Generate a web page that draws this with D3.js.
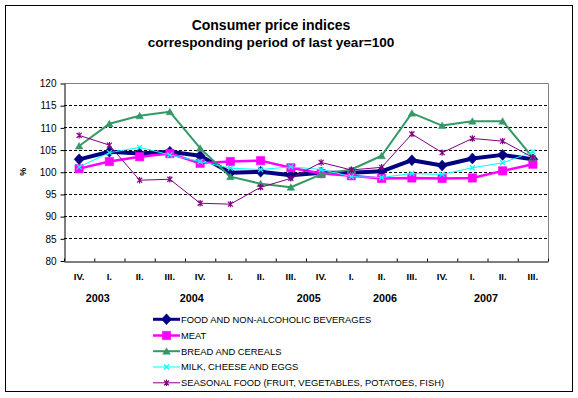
<!DOCTYPE html>
<html>
<head>
<meta charset="utf-8">
<script src="https://cdn.jsdelivr.net/npm/d3@7"></script>
<style>
  body { margin: 0; background: #fff; }
  svg { display: block; font-family: Arial, "Liberation Sans", sans-serif; }
</style>
</head>
<body>
<div id="chart"></div>
<script>
// data
var quarters = ["IV.", "I.", "II.", "III.", "IV.", "I.", "II.", "III.", "IV.", "I.", "II.", "III.", "IV.", "I.", "II.", "III."];
var years = ["2003", "2004", "2005", "2006", "2007"];
var yearAt = [0.62, 3.72, 7.59, 10.11, 13.45];   // where excel put the year labels (in category units)
var yTicks = [80, 85, 90, 95, 100, 105, 110, 115, 120];

var food     = [102.8, 104.5, 104.1, 104.5, 103.6, 99.8, 100.0, 99.2, 99.8, 99.8, 100.1, 102.6, 101.4, 103.0, 103.8, 102.8];
var meat     = [100.7, 102.3, 103.4, 104.1, 101.9, 102.3, 102.5, 100.9, 99.6, 99.1, 98.5, 98.6, 98.5, 98.6, 100.2, 101.7];
var bread    = [105.8, 110.8, 112.6, 113.5, 105.3, 98.9, 97.3, 96.5, 99.4, 100.5, 103.6, 113.2, 110.4, 111.4, 111.4, 103.2];
var milk     = [101.1, 104.3, 105.5, 103.8, 102.3, 100.8, 100.5, 101.1, 100.5, 98.9, 98.7, 99.6, 99.4, 100.9, 102.0, 104.5];
var seasonal = [108.2, 106.0, 98.1, 98.3, 92.9, 92.7, 96.5, 98.5, 102.1, 100.4, 101.0, 108.5, 104.3, 107.5, 106.9, 103.2];

var series = [
  {name: "FOOD AND NON-ALCOHOLIC BEVERAGES", values: food, color: "#000080", width: 4, marker: "diamond"},
  {name: "MEAT", values: meat, color: "#FF00FF", width: 2.5, marker: "square"},
  {name: "BREAD AND CEREALS", values: bread, color: "#339966", width: 2, marker: "triangle"},
  {name: "MILK, CHEESE AND EGGS", values: milk, color: "#00FFFF", width: 1, marker: "cross"},
  {name: "SEASONAL FOOD (FRUIT, VEGETABLES, POTATOES, FISH)", values: seasonal, color: "#800080", width: 1, marker: "star"}
];

var W = 578, H = 398;
var plot = {left: 64, right: 548, top: 83, bottom: 260.5};

var svg = d3.select("#chart").append("svg")
    .attr("width", W)
    .attr("height", H);

// outer frame
svg.append("rect")
    .attr("x", 5.5).attr("y", 5.5)
    .attr("width", 567).attr("height", 386)
    .attr("fill", "#fff")
    .attr("stroke", "#000");

// titles
svg.append("text")
    .attr("x", 271).attr("y", 30)
    .attr("text-anchor", "middle")
    .style("font-size", "14px").style("font-weight", "bold")
    .text("Consumer price indices");
svg.append("text")
    .attr("x", 271).attr("y", 47)
    .attr("text-anchor", "middle")
    .style("font-size", "13.6px").style("font-weight", "bold")
    .text("corresponding period of last year=100");

var x = d3.scaleLinear().domain([0, quarters.length]).range([plot.left, plot.right]);
var y = d3.scaleLinear().domain([80, 120]).range([plot.bottom, plot.top]);
function cx(i) { return x(i + 0.5); }

// gridlines
svg.append("g")
    .selectAll("line")
    .data(yTicks.filter(function(d) { return d > 80 && d < 120; }))
    .enter()
    .append("line")
    .attr("x1", plot.left).attr("x2", plot.right)
    .attr("y1", function(d) { return Math.round(y(d)) + 0.5; })
    .attr("y2", function(d) { return Math.round(y(d)) + 0.5; })
    .attr("stroke", "#000")
    .attr("stroke-dasharray", "3,2");

// grey plot frame (top and right)
svg.append("path")
    .attr("d", "M" + plot.left + "," + (plot.top + 0.5) + "H" + (plot.right + 0.5) + "V" + plot.bottom)
    .attr("fill", "none")
    .attr("stroke", "#808080");

// y axis
var yAxis = svg.append("g")
    .attr("transform", "translate(" + (plot.left + 0.5) + ",0.5)")
    .call(d3.axisLeft(y).tickValues(yTicks).tickSize(4).tickPadding(4).tickSizeOuter(0));
yAxis.select(".domain").attr("stroke", "#000");
yAxis.selectAll("text").style("font-size", "10px").attr("fill", "#000");

svg.append("text")
    .attr("transform", "translate(26," + y(100) + ") rotate(-90)")
    .attr("text-anchor", "middle")
    .style("font-size", "9px").style("font-weight", "bold")
    .text("%");

// x axis, ticks pointing inward
var xAxis = svg.append("g")
    .attr("transform", "translate(0," + (Math.round(plot.bottom) + 0.5) + ")")
    .call(d3.axisBottom(x).tickValues(d3.range(0, quarters.length + 1)).tickSize(-3).tickSizeOuter(0).tickFormat(""));
xAxis.select(".domain").attr("stroke", "#000");

svg.append("g")
    .selectAll("text")
    .data(quarters)
    .enter()
    .append("text")
    .attr("x", function(d, i) { return cx(i); })
    .attr("y", 279.5)
    .attr("text-anchor", "middle")
    .style("font-size", "9.5px").style("font-weight", "bold")
    .text(function(d) { return d; });

svg.append("g")
    .selectAll("text")
    .data(years)
    .enter()
    .append("text")
    .attr("x", function(d, i) { return cx(yearAt[i]); })
    .attr("y", 301.5)
    .attr("text-anchor", "middle")
    .style("font-size", "10.8px").style("font-weight", "bold")
    .text(function(d) { return d; });

// marker shapes
function markerPath(type) {
  if (type == "diamond") return "M0,-5.5L5,0L0,5.5L-5,0Z";
  if (type == "square") return "M-4.2,-4.2H4.2V4.2H-4.2Z";
  if (type == "triangle") return "M0,-3.5L3.8,3L-3.8,3Z";
  if (type == "cross") return "M-2.5,-2.5L2.5,2.5M-2.5,2.5L2.5,-2.5";
  return "M-2.5,-2.5L2.5,2.5M-2.5,2.5L2.5,-2.5M0,-3.2V3.2";
}
function drawMarker(g, s, px, py) {
  var open = (s.marker == "cross" || s.marker == "star");
  g.append("path")
    .attr("transform", "translate(" + px + "," + py + ")")
    .attr("d", markerPath(s.marker))
    .attr("fill", open ? "none" : s.color)
    .attr("stroke", s.color)
    .attr("stroke-width", open ? 1.2 : 0.5);
}

var line = d3.line()
    .x(function(d, i) { return cx(i); })
    .y(function(d) { return y(d); });

series.forEach(function(s) {
  var g = svg.append("g");
  g.append("path")
    .datum(s.values)
    .attr("d", line)
    .attr("fill", "none")
    .attr("stroke", s.color)
    .attr("stroke-width", s.width)
    .attr("stroke-linejoin", "round");
  s.values.forEach(function(v, i) { drawMarker(g, s, cx(i), y(v)); });
});

// legend
var legendY = [319.3, 335.5, 351.2, 367, 382.8];
var legend = svg.append("g");
series.forEach(function(s, i) {
  var row = legend.append("g");
  row.append("line")
    .attr("x1", 153).attr("x2", 180)
    .attr("y1", legendY[i]).attr("y2", legendY[i])
    .attr("stroke", s.color)
    .attr("stroke-width", Math.min(s.width, 3));
  var sm = Object.assign({}, s);
  drawMarker(row, {marker: s.marker, color: s.color}, 166.5, legendY[i]);
  row.append("text")
    .attr("x", 181).attr("y", legendY[i] + 3.4)
    .style("font-size", "9.4px")
    .text(s.name);
});
</script>
</body>
</html>
